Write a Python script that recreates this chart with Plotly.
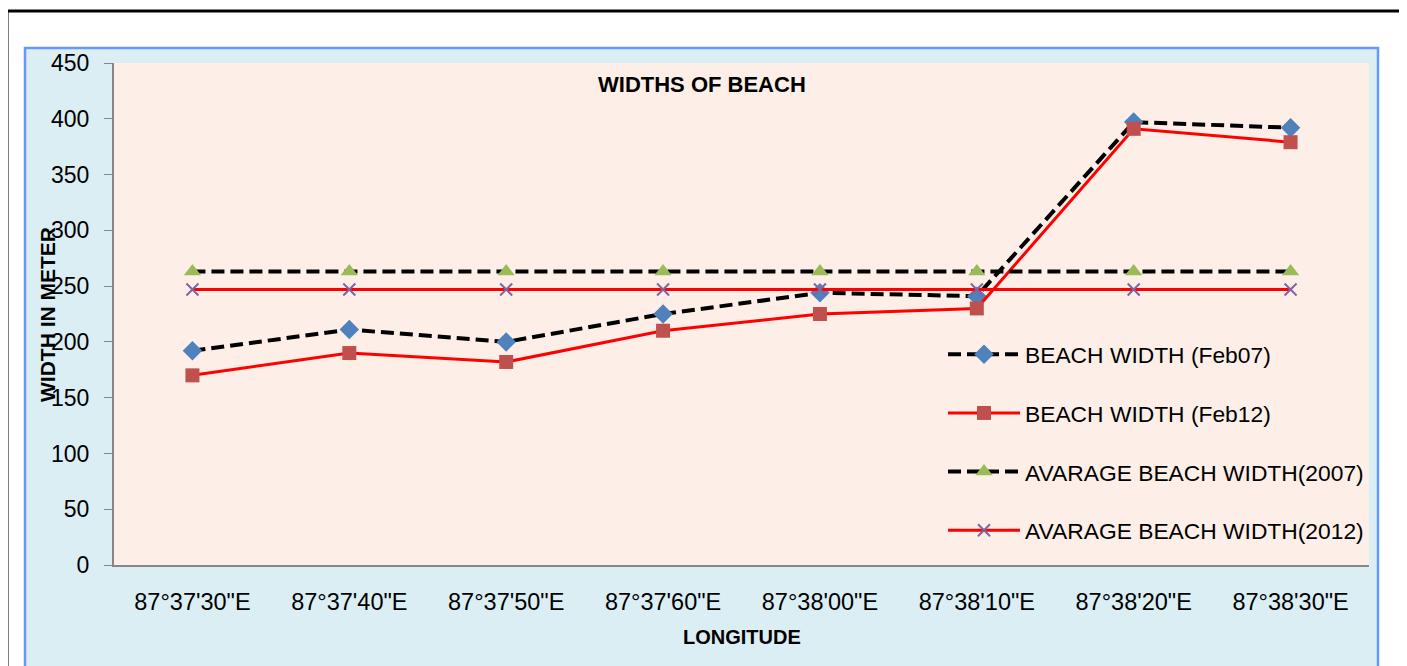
import plotly.graph_objects as go

longitudes = ["87°37'30\"E", "87°37'40\"E", "87°37'50\"E", "87°37'60\"E",
              "87°38'00\"E", "87°38'10\"E", "87°38'20\"E", "87°38'30\"E"]
width_feb07 = [192, 211, 200, 225, 244, 241, 397, 392]
width_feb12 = [170, 190, 182, 210, 225, 230, 391, 379]
avg_2007 = [263, 263, 263, 263, 263, 263, 263, 263]
avg_2012 = [247, 247, 247, 247, 247, 247, 247, 247]

FONT = "Liberation Sans"
DASH = "13px,6px"

fig = go.Figure()
fig.add_trace(go.Scatter(
    x=longitudes, y=width_feb07, name="BEACH WIDTH (Feb07)", legendgroup="a",
    mode="lines+markers",
    line=dict(color="black", width=4, dash=DASH),
    marker=dict(symbol="diamond", size=15, color="#4F81BD")))
fig.add_trace(go.Scatter(
    x=longitudes, y=width_feb12, name="BEACH WIDTH (Feb12)", legendgroup="b",
    mode="lines+markers",
    line=dict(color="#FF0000", width=3),
    marker=dict(symbol="square", size=14, color="#C0504D")))
fig.add_trace(go.Scatter(
    x=longitudes, y=avg_2007, name="AVARAGE BEACH WIDTH(2007)", legendgroup="c",
    mode="lines+markers",
    line=dict(color="black", width=4, dash=DASH),
    marker=dict(symbol="triangle-up", size=15, color="#9BBB59")))
fig.add_trace(go.Scatter(
    x=longitudes, y=avg_2012, name="AVARAGE BEACH WIDTH(2012)", legendgroup="d",
    mode="lines+markers",
    line=dict(color="#FF0000", width=3),
    marker=dict(symbol="x-thin", size=12, color="#8064A2",
                line=dict(color="#8064A2", width=2))))

# The page has an 8px body margin: figure pixel = screen pixel - 8
OFF = 8
W, H = 1407, 666
L, T = 114 - OFF, 63 - OFF
R = W - (1369 - OFF)
B = H - (565 - OFF)
pw, ph = W - L - R, H - T - B


def px(x):
    return (x - OFF - L) / pw


def py(y):
    return (H - B - (y - OFF)) / ph


shapes = [
    # chart area (light blue with blue border)
    dict(type="rect", xref="paper", yref="paper", layer="below",
         x0=px(25), x1=px(1378), y0=py(700), y1=py(48),
         fillcolor="#DAEEF3", line=dict(color="#6699FF", width=2.5)),
    # plot area fill
    dict(type="rect", xref="paper", yref="paper", layer="below",
         x0=0, x1=1, y0=0, y1=1, fillcolor="#FDEFE7", line=dict(width=0)),
    # outer black frame (top and left)
    dict(type="line", xref="paper", yref="paper",
         x0=px(7), x1=px(1430), y0=py(11), y1=py(11),
         line=dict(color="black", width=3)),
    dict(type="line", xref="paper", yref="paper",
         x0=px(7), x1=px(7), y0=py(11), y1=py(700),
         line=dict(color="black", width=3)),
]

annotations = [
    dict(text="<b>WIDTH IN METER</b>", xref="paper", yref="paper",
         x=px(47), y=py(315), textangle=-90, showarrow=False,
         xanchor="center", yanchor="middle",
         font=dict(family=FONT, size=21, color="black")),
    dict(text="<b>LONGITUDE</b>", xref="paper", yref="paper",
         x=0.5, y=py(637), showarrow=False, xanchor="center", yanchor="middle",
         font=dict(family=FONT, size=20, color="black")),
    dict(text="<b>WIDTHS OF BEACH</b>", xref="paper", yref="paper",
         x=px(702), y=py(85), showarrow=False, xanchor="center", yanchor="middle",
         font=dict(family=FONT, size=22, color="black")),
]

fig.update_layout(
    width=W, height=H,
    margin=dict(l=L, r=R, t=T, b=B),
    paper_bgcolor="white",
    plot_bgcolor="rgba(0,0,0,0)",
    font=dict(family=FONT, size=22, color="black"),
    shapes=shapes,
    annotations=annotations,
    showlegend=True,
    legend=dict(x=px(943), y=py(333), xanchor="left", yanchor="top",
                bgcolor="rgba(0,0,0,0)", itemwidth=72, tracegroupgap=26,
                font=dict(family=FONT, size=22.8, color="black")),
    xaxis=dict(range=[-0.5, 7.5], showline=True, linecolor="#868686", linewidth=2,
               ticks="", showgrid=False, zeroline=False, ticklabelstandoff=15,
               tickfont=dict(family=FONT, size=23.5)),
    yaxis=dict(range=[0, 450], dtick=50, showline=True, linecolor="#868686",
               linewidth=2, ticks="outside", ticklen=8, tickcolor="#868686",
               showgrid=False, zeroline=False, ticklabelstandoff=10,
               tickfont=dict(family=FONT, size=23)),
)

fig.write_html("out.html")
